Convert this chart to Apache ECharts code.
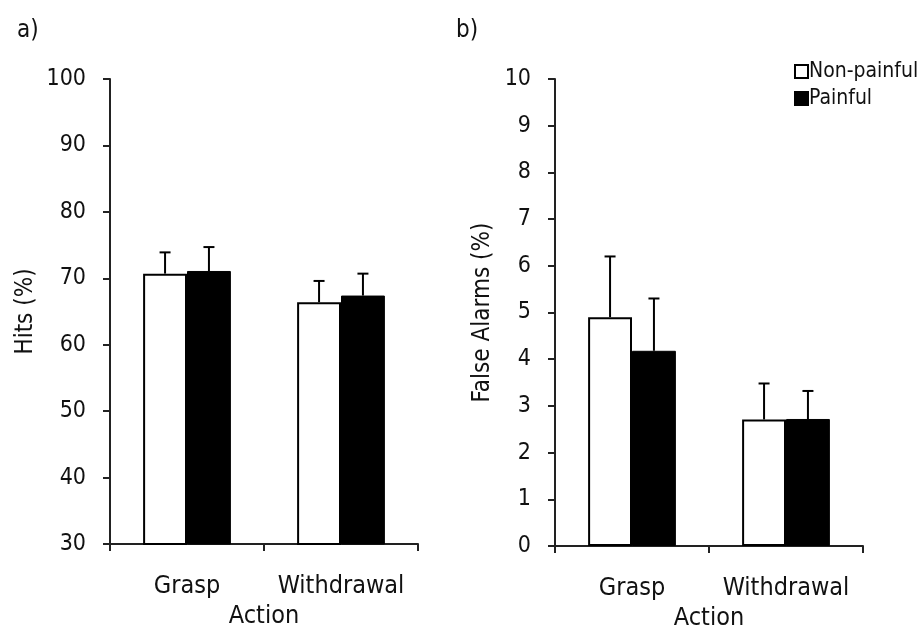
<!DOCTYPE html>
<html>
<head>
<meta charset="utf-8">
<script src="https://cdn.jsdelivr.net/npm/echarts@6/dist/echarts.min.js"></script>
<style>
  html, body { margin: 0; padding: 0; background: #fff; }
  #chart { width: 923px; height: 628px; }
</style>
</head>
<body>
<div id="chart"></div>
<script>
// Two-panel bar chart: hit rate and false-alarm rate by action type
const categories = ['Grasp', 'Withdrawal'];
const seriesNames = ['Non-painful', 'Painful'];

// Panel a) Hits (%)
const hitsNonPainful = [70.7, 66.4];
const hitsPainful = [71.1, 67.4];
const hitsErrNonPainful = [3.2, 3.2];
const hitsErrPainful = [3.6, 3.3];

// Panel b) False alarms (%)
const faNonPainful = [4.90, 2.71];
const faPainful = [4.18, 2.72];
const faErrNonPainful = [1.30, 0.77];
const faErrPainful = [1.12, 0.60];

const FONT = '"DejaVu Sans Condensed", "DejaVu Sans", sans-serif';
const INK = '#111';
const CAT_GAP = 0.43; // fraction of the band left empty

function xAxisFor(gridIndex) {
  return {
    type: 'category',
    gridIndex: gridIndex,
    data: categories,
    name: 'Action',
    nameLocation: 'middle',
    nameGap: 59,
    nameTextStyle: { fontFamily: FONT, fontSize: 25, color: INK },
    axisLine: { lineStyle: { color: '#222', width: 2 } },
    axisTick: { show: true, length: 7, lineStyle: { color: '#222', width: 2 } },
    axisLabel: { fontFamily: FONT, fontSize: 25, color: INK, margin: 30, interval: 0 },
    splitLine: { show: false }
  };
}

function yAxisFor(gridIndex, min, max, interval, name, nameGap) {
  return {
    type: 'value',
    gridIndex: gridIndex,
    min: min, max: max, interval: interval,
    name: name,
    nameLocation: 'middle',
    nameGap: nameGap,
    nameTextStyle: { fontFamily: FONT, fontSize: 24, color: INK },
    axisLine: { show: true, lineStyle: { color: '#222', width: 2 } },
    axisTick: { show: true, length: 7, lineStyle: { color: '#222', width: 2 } },
    axisLabel: { fontFamily: FONT, fontSize: 23, color: INK, margin: 24 },
    splitLine: { show: false }
  };
}

function barSeries(name, data, idx, filled) {
  return {
    name: name,
    type: 'bar',
    xAxisIndex: idx,
    yAxisIndex: idx,
    data: data,
    barGap: '0%',
    barCategoryGap: (CAT_GAP * 100) + '%',
    itemStyle: filled
      ? { color: '#000', borderColor: '#000', borderWidth: 1 }
      : { color: '#fff', borderColor: '#000', borderWidth: 2 },
    emphasis: { disabled: true },
    silent: true
  };
}

// Error bars: a vertical whisker above each bar with a short cap
function errorSeries(means, errs, idx, side) {
  return {
    type: 'custom',
    xAxisIndex: idx,
    yAxisIndex: idx,
    silent: true,
    z: 1,
    data: means.map((m, i) => [i, m, m + errs[i]]),
    renderItem: function (params, api) {
      const band = api.size([1, 0])[0];
      const barW = band * (1 - CAT_GAP) / 2;
      const base = api.coord([api.value(0), api.value(1)]);
      const top = api.coord([api.value(0), api.value(2)]);
      const x = base[0] + side * barW / 2;
      const cap = 5.5;
      const style = { stroke: '#000', lineWidth: 2, fill: null };
      return {
        type: 'group',
        children: [
          { type: 'line', shape: { x1: x, y1: base[1], x2: x, y2: top[1] }, style: style },
          { type: 'line', shape: { x1: x - cap, y1: top[1], x2: x + cap, y2: top[1] }, style: style }
        ]
      };
    }
  };
}

const chart = echarts.init(document.getElementById('chart'), null, { renderer: 'canvas' });

chart.setOption({
  animation: false,
  backgroundColor: '#fff',
  title: [
    { text: 'a)', left: 12, top: 14, textStyle: { fontFamily: FONT, fontSize: 24, fontWeight: 'normal', color: INK } },
    { text: 'b)', left: 451, top: 14, textStyle: { fontFamily: FONT, fontSize: 24, fontWeight: 'normal', color: INK } }
  ],
  legend: {
    data: seriesNames,
    orient: 'vertical',
    left: 789,
    top: 56,
    itemWidth: 13,
    itemHeight: 13,
    itemGap: 6,
    icon: 'rect',
    selectedMode: false,
    textStyle: { fontFamily: FONT, fontSize: 21, color: INK, padding: [0, 0, 0, -4] }
  },
  grid: [
    { left: 110, top: 79, width: 308, height: 465, containLabel: false, outerBoundsMode: 'none' },
    { left: 555, top: 79, width: 308, height: 467, containLabel: false, outerBoundsMode: 'none' }
  ],
  xAxis: [xAxisFor(0), xAxisFor(1)],
  yAxis: [
    yAxisFor(0, 30, 100, 10, 'Hits (%)', 72),
    yAxisFor(1, 0, 10, 1, 'False Alarms (%)', 60)
  ],
  series: [
    barSeries('Non-painful', hitsNonPainful, 0, false),
    barSeries('Painful', hitsPainful, 0, true),
    errorSeries(hitsNonPainful, hitsErrNonPainful, 0, -1),
    errorSeries(hitsPainful, hitsErrPainful, 0, 1),
    barSeries('Non-painful', faNonPainful, 1, false),
    barSeries('Painful', faPainful, 1, true),
    errorSeries(faNonPainful, faErrNonPainful, 1, -1),
    errorSeries(faPainful, faErrPainful, 1, 1)
  ]
});
</script>
</body>
</html>
